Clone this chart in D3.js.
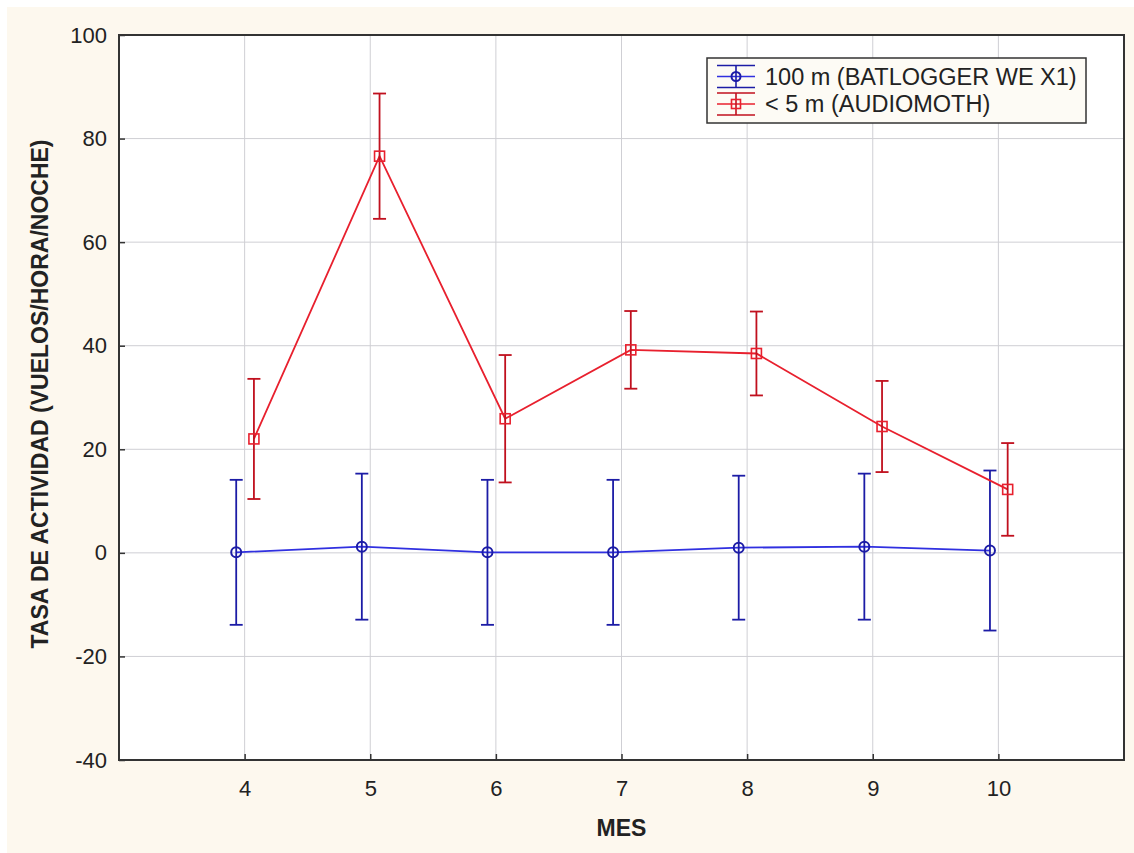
<!DOCTYPE html>
<html>
<head>
<meta charset="utf-8">
<script src="https://cdn.jsdelivr.net/npm/d3@7"></script>
<style>
  html, body { margin: 0; padding: 0; background: #ffffff; }
  svg { display: block; }
  text { font-family: "Liberation Sans", Arial, sans-serif; }
</style>
</head>
<body>
<svg id="chart" width="1134" height="853"></svg>
<script>
// ---- data ----
const months = [4, 5, 6, 7, 8, 9, 10];
const blueMean = [0.1, 1.2, 0.1, 0.1, 1.0, 1.2, 0.45];
const blueErr  = [14.0, 14.1, 14.0, 14.0, 13.9, 14.1, 15.45];
const redMean  = [22.0, 76.6, 25.9, 39.2, 38.5, 24.4, 12.25];
const redErr   = [11.6, 12.1, 12.3, 7.5, 8.1, 8.8, 8.95];
const xTicks = [4, 5, 6, 7, 8, 9, 10];
const yTicks = [-40, -20, 0, 20, 40, 60, 80, 100];
const seriesNames = ["100 m (BATLOGGER WE X1)", "< 5 m (AUDIOMOTH)"];
const xTitle = "MES";
const yTitle = "TASA DE ACTIVIDAD (VUELOS/HORA/NOCHE)";

// ---- layout ----
const svg = d3.select("#chart");
const L = 119, R = 1124, T = 35, B = 760;
const x = d3.scaleLinear().domain([3, 11]).range([L, R]);
const y = d3.scaleLinear().domain([-40, 100]).range([B, T]);

svg.append("rect").attr("x", 7).attr("y", 7).attr("width", 1127).attr("height", 846)
  .attr("fill", "#fdf8ee");
svg.append("rect").attr("x", L).attr("y", T).attr("width", R - L).attr("height", B - T)
  .attr("fill", "#ffffff");

// gridlines
svg.append("g").selectAll("line").data(xTicks).join("line")
  .attr("x1", d => x(d)).attr("x2", d => x(d)).attr("y1", T).attr("y2", B)
  .attr("stroke", "#cfcfd4").attr("stroke-width", 1);
svg.append("g").selectAll("line").data(yTicks).join("line")
  .attr("x1", L).attr("x2", R).attr("y1", d => y(d)).attr("y2", d => y(d))
  .attr("stroke", "#cfcfd4").attr("stroke-width", 1);

// axes
const fmt = d => String(d);
const xAxis = d3.axisBottom(x).tickValues(xTicks).tickSize(-6).tickPadding(20).tickFormat(fmt);
const yAxis = d3.axisLeft(y).tickValues(yTicks).tickSize(-6).tickPadding(12).tickFormat(fmt);
const gx = svg.append("g").attr("transform", `translate(0,${B})`).call(xAxis);
const gy = svg.append("g").attr("transform", `translate(${L},0)`).call(yAxis);
[gx, gy].forEach(g => {
  g.select(".domain").remove();
  g.selectAll(".tick line").attr("stroke", "#333").attr("stroke-width", 1.5);
  g.selectAll(".tick text").attr("font-size", 22).attr("fill", "#222")
    .attr("font-family", "'Liberation Sans', Arial, sans-serif");
});

// frame
svg.append("rect").attr("x", L).attr("y", T).attr("width", R - L).attr("height", B - T)
  .attr("fill", "none").attr("stroke", "#333").attr("stroke-width", 2);

// titles
svg.append("text").attr("x", x(7)).attr("y", 836).attr("text-anchor", "middle")
  .attr("font-size", 23).attr("font-weight", "bold").attr("fill", "#222").text(xTitle);
svg.append("text").attr("transform", `translate(48,394) rotate(-90)`)
  .attr("text-anchor", "middle").attr("font-size", 23).attr("font-weight", "bold")
  .attr("fill", "#222").text(yTitle);

// series
const series = [
  { mean: blueMean, err: blueErr, off: -0.067, line: "#3030e0", bar: "#1c1ca6", shape: "circle" },
  { mean: redMean, err: redErr, off: 0.074, line: "#e8202e", bar: "#c0101e", shape: "square" }
];
const capW = 6.5;
series.forEach(s => {
  const pts = months.map((m, i) => ({ m, v: s.mean[i], e: s.err[i] }));
  const g = svg.append("g");
  g.append("path").datum(pts)
    .attr("d", d3.line().x(d => x(d.m + s.off)).y(d => y(d.v)))
    .attr("fill", "none").attr("stroke", s.line).attr("stroke-width", 1.8);
  const eb = g.selectAll("g.eb").data(pts).join("g");
  eb.append("line").attr("x1", d => x(d.m + s.off)).attr("x2", d => x(d.m + s.off))
    .attr("y1", d => y(d.v + d.e)).attr("y2", d => y(d.v - d.e))
    .attr("stroke", s.bar).attr("stroke-width", 1.8);
  eb.append("line").attr("x1", d => x(d.m + s.off) - capW).attr("x2", d => x(d.m + s.off) + capW)
    .attr("y1", d => y(d.v + d.e)).attr("y2", d => y(d.v + d.e))
    .attr("stroke", s.bar).attr("stroke-width", 1.8);
  eb.append("line").attr("x1", d => x(d.m + s.off) - capW).attr("x2", d => x(d.m + s.off) + capW)
    .attr("y1", d => y(d.v - d.e)).attr("y2", d => y(d.v - d.e))
    .attr("stroke", s.bar).attr("stroke-width", 1.8);
  if (s.shape === "circle") {
    eb.append("circle").attr("cx", d => x(d.m + s.off)).attr("cy", d => y(d.v)).attr("r", 5)
      .attr("fill", "none").attr("stroke", s.bar).attr("stroke-width", 2);
  } else {
    eb.append("rect").attr("x", d => x(d.m + s.off) - 5).attr("y", d => y(d.v) - 5)
      .attr("width", 10).attr("height", 10)
      .attr("fill", "none").attr("stroke", s.line).attr("stroke-width", 1.6);
  }
});

// legend
const lg = svg.append("g");
lg.append("rect").attr("x", 707).attr("y", 58).attr("width", 379).attr("height", 65)
  .attr("fill", "#fdfbf5").attr("stroke", "#333").attr("stroke-width", 1.5);
series.forEach((s, i) => {
  const cy = 76.5 + i * 27.5;
  const x0 = 717, x1 = 755, cx = 736;
  const gi = lg.append("g");
  [-11, 0, 11].forEach(dy => gi.append("line").attr("x1", x0).attr("x2", x1)
    .attr("y1", cy + dy).attr("y2", cy + dy)
    .attr("stroke", dy === 0 ? s.line : s.bar).attr("stroke-width", 1.6));
  gi.append("line").attr("x1", cx).attr("x2", cx).attr("y1", cy - 11).attr("y2", cy + 11)
    .attr("stroke", s.bar).attr("stroke-width", 1.6);
  if (s.shape === "circle") {
    gi.append("circle").attr("cx", cx).attr("cy", cy).attr("r", 4.5)
      .attr("fill", "none").attr("stroke", s.bar).attr("stroke-width", 2);
  } else {
    gi.append("rect").attr("x", cx - 4.5).attr("y", cy - 4.5).attr("width", 9).attr("height", 9)
      .attr("fill", "none").attr("stroke", s.line).attr("stroke-width", 1.6);
  }
  gi.append("text").attr("x", 765).attr("y", cy + 8).attr("font-size", 23.5)
    .attr("fill", "#222").text(seriesNames[i]);
});
</script>
</body>
</html>
